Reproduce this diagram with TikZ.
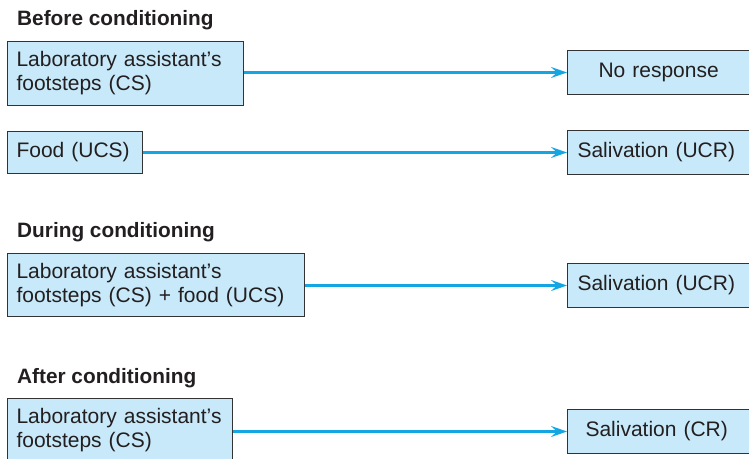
\documentclass[tikz,border=0pt]{standalone}
\usepackage{fontspec}
\setmainfont{Liberation Sans}
\usetikzlibrary{arrows.meta}
\definecolor{boxfill}{HTML}{C8E9F9}
\definecolor{boxline}{HTML}{333333}
\definecolor{arrowblue}{HTML}{14A6E3}
\definecolor{ink}{HTML}{231F20}
\tikzset{
  x=1pt, y=-1pt,
  every node/.style={font=\fontsize{21}{24}\selectfont, text=ink},
  heading/.style={anchor=base west, inner sep=0pt, font=\fontsize{20.8}{24}\selectfont\bfseries},
  stimbox/.style={draw=boxline, fill=boxfill, line width=1pt, anchor=north west,
    inner xsep=9pt, inner ysep=0pt, align=left},
  respbox/.style={draw=boxline, fill=boxfill, line width=1pt, anchor=north west,
    minimum width=192pt, minimum height=44pt, inner ysep=0pt, align=left},
  link/.style={draw=arrowblue, line width=2.2pt,
    -{Stealth[length=16pt, width=11pt, inset=6pt]}},
}
\begin{document}
\begin{tikzpicture}
\useasboundingbox (0,0) rectangle (749,458);

% Before conditioning
\node[heading] (h1) at (17,25) {Before conditioning};
\node[stimbox, minimum width=236pt, minimum height=64pt, text width=218pt] (cs1) at (7,41)
  {Laboratory assistant’s\\footsteps (CS)};
\node[respbox, inner xsep=31pt, text width=130pt] (r1) at (567,50) {No response};
\draw[link] (cs1.east |- r1.west) -- (r1.west);

\node[stimbox, minimum width=135pt, minimum height=42pt, text width=117pt] (ucs1) at (7,131)
  {Food (UCS)};
\node[respbox, inner xsep=10pt, text width=172pt] (r2) at (567,130) {Salivation (UCR)};
\draw[link] (ucs1.east |- r2.west) -- (r2.west);

% During conditioning
\node[heading] (h2) at (17,237) {During conditioning};
\node[stimbox, minimum width=297pt, minimum height=63pt, text width=279pt] (cs2) at (7,253)
  {Laboratory assistant’s\\footsteps (CS) + food (UCS)};
\node[respbox, inner xsep=10pt, text width=172pt] (r3) at (567,263) {Salivation (UCR)};
\draw[link] (cs2.east |- r3.west) -- (r3.west);

% After conditioning
\node[heading] (h3) at (17,383) {After conditioning};
\node[stimbox, minimum width=225pt, minimum height=64pt, text width=207pt] (cs3) at (7,398)
  {Laboratory assistant’s\\footsteps (CS)};
\node[respbox, inner xsep=18pt, text width=156pt] (r4) at (567,409) {Salivation (CR)};
\draw[link] (cs3.east |- r4.west) -- (r4.west);
\end{tikzpicture}
\end{document}
